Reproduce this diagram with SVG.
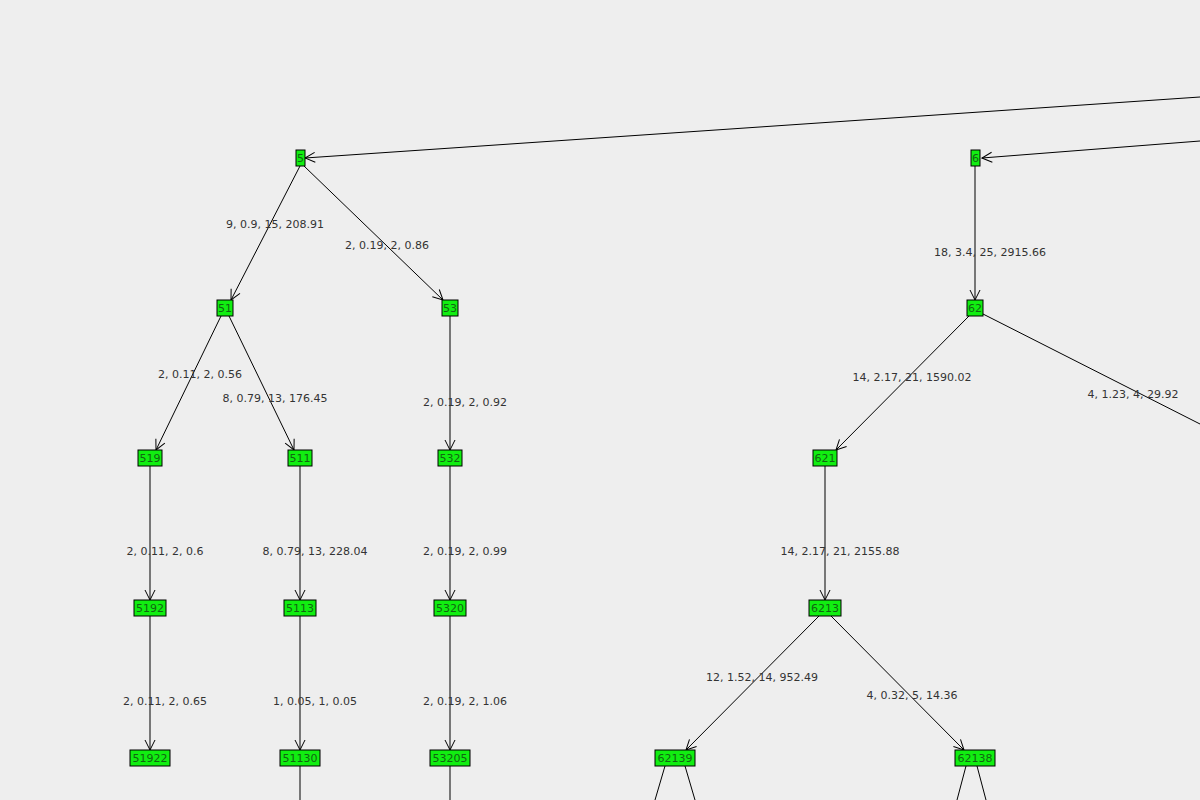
<svg xmlns="http://www.w3.org/2000/svg" width="1200" height="800" viewBox="0 0 1200 800">
<defs>
<marker id="a" markerWidth="12" markerHeight="12" refX="11" refY="6" orient="auto" markerUnits="userSpaceOnUse"><path d="M1,1 L11,6 L1,11" fill="none" stroke="#000" stroke-width="1"/></marker>
<style>
.n rect{fill:#11ee11;stroke:#000;stroke-width:1}
.n text{font-family:"DejaVu Sans",sans-serif;font-size:11px;fill:#116611;text-anchor:middle}
.e line{stroke:#000;stroke-width:1}
.e .m{marker-end:url(#a)}
.l{font-family:"DejaVu Sans",sans-serif;font-size:11px;fill:#333;text-anchor:middle}
</style>
</defs>
<rect width="1200" height="800" fill="#eeeeee"/>
<g id="connectors" class="e">
<line class="m" x1="1200" y1="97" x2="305" y2="158"/>
<line class="m" x1="1200" y1="141" x2="982" y2="158"/>
<line class="m" x1="300" y1="166" x2="231" y2="300"/>
<line class="m" x1="304" y1="166" x2="443" y2="300"/>
<line class="m" x1="221" y1="316" x2="156" y2="450"/>
<line class="m" x1="229" y1="316" x2="294" y2="450"/>
<line class="m" x1="450" y1="316" x2="450" y2="450"/>
<line class="m" x1="150" y1="466" x2="150" y2="600"/>
<line class="m" x1="300" y1="466" x2="300" y2="600"/>
<line class="m" x1="450" y1="466" x2="450" y2="600"/>
<line class="m" x1="150" y1="616" x2="150" y2="750"/>
<line class="m" x1="300" y1="616" x2="300" y2="750"/>
<line class="m" x1="450" y1="616" x2="450" y2="750"/>
<line x1="300" y1="766" x2="300" y2="800"/>
<line x1="450" y1="766" x2="450" y2="800"/>
<line class="m" x1="975" y1="166" x2="975" y2="300"/>
<line class="m" x1="969" y1="316" x2="836" y2="450"/>
<line x1="983" y1="314" x2="1200" y2="424"/>
<line class="m" x1="825" y1="466" x2="825" y2="600"/>
<line class="m" x1="819" y1="616" x2="686" y2="750"/>
<line class="m" x1="831" y1="616" x2="964" y2="750"/>
<line x1="665" y1="766" x2="655" y2="800"/>
<line x1="685" y1="766" x2="695" y2="800"/>
<line x1="966" y1="766" x2="957" y2="800"/>
<line x1="977" y1="766" x2="986" y2="800"/>
</g>
<g id="labels">
<text class="l" x="275" y="228">9, 0.9, 15, 208.91</text>
<text class="l" x="387" y="249">2, 0.19, 2, 0.86</text>
<text class="l" x="200" y="378">2, 0.11, 2, 0.56</text>
<text class="l" x="275" y="402">8, 0.79, 13, 176.45</text>
<text class="l" x="465" y="406">2, 0.19, 2, 0.92</text>
<text class="l" x="165" y="555">2, 0.11, 2, 0.6</text>
<text class="l" x="315" y="555">8, 0.79, 13, 228.04</text>
<text class="l" x="465" y="555">2, 0.19, 2, 0.99</text>
<text class="l" x="165" y="705">2, 0.11, 2, 0.65</text>
<text class="l" x="315" y="705">1, 0.05, 1, 0.05</text>
<text class="l" x="465" y="705">2, 0.19, 2, 1.06</text>
<text class="l" x="990" y="256">18, 3.4, 25, 2915.66</text>
<text class="l" x="912" y="381">14, 2.17, 21, 1590.02</text>
<text class="l" x="1133" y="398">4, 1.23, 4, 29.92</text>
<text class="l" x="840" y="555">14, 2.17, 21, 2155.88</text>
<text class="l" x="762" y="681">12, 1.52, 14, 952.49</text>
<text class="l" x="912" y="699">4, 0.32, 5, 14.36</text>
</g>
<g id="n5" class="n"><rect x="296" y="150" width="9" height="16"/><text x="300.5" y="162">5</text></g>
<g id="n6" class="n"><rect x="971" y="150" width="9" height="16"/><text x="975.5" y="162">6</text></g>
<g id="n51" class="n"><rect x="217" y="300" width="16" height="16"/><text x="225" y="312">51</text></g>
<g id="n53" class="n"><rect x="442" y="300" width="16" height="16"/><text x="450" y="312">53</text></g>
<g id="n62" class="n"><rect x="967" y="300" width="16" height="16"/><text x="975" y="312">62</text></g>
<g id="n519" class="n"><rect x="138" y="450" width="24" height="16"/><text x="150" y="462">519</text></g>
<g id="n511" class="n"><rect x="288" y="450" width="24" height="16"/><text x="300" y="462">511</text></g>
<g id="n532" class="n"><rect x="438" y="450" width="24" height="16"/><text x="450" y="462">532</text></g>
<g id="n621" class="n"><rect x="813" y="450" width="24" height="16"/><text x="825" y="462">621</text></g>
<g id="n5192" class="n"><rect x="134" y="600" width="32" height="16"/><text x="150" y="612">5192</text></g>
<g id="n5113" class="n"><rect x="284" y="600" width="32" height="16"/><text x="300" y="612">5113</text></g>
<g id="n5320" class="n"><rect x="434" y="600" width="32" height="16"/><text x="450" y="612">5320</text></g>
<g id="n6213" class="n"><rect x="809" y="600" width="32" height="16"/><text x="825" y="612">6213</text></g>
<g id="n51922" class="n"><rect x="130" y="750" width="40" height="16"/><text x="150" y="762">51922</text></g>
<g id="n51130" class="n"><rect x="280" y="750" width="40" height="16"/><text x="300" y="762">51130</text></g>
<g id="n53205" class="n"><rect x="430" y="750" width="40" height="16"/><text x="450" y="762">53205</text></g>
<g id="n62139" class="n"><rect x="655" y="750" width="40" height="16"/><text x="675" y="762">62139</text></g>
<g id="n62138" class="n"><rect x="955" y="750" width="40" height="16"/><text x="975" y="762">62138</text></g>
</svg>
